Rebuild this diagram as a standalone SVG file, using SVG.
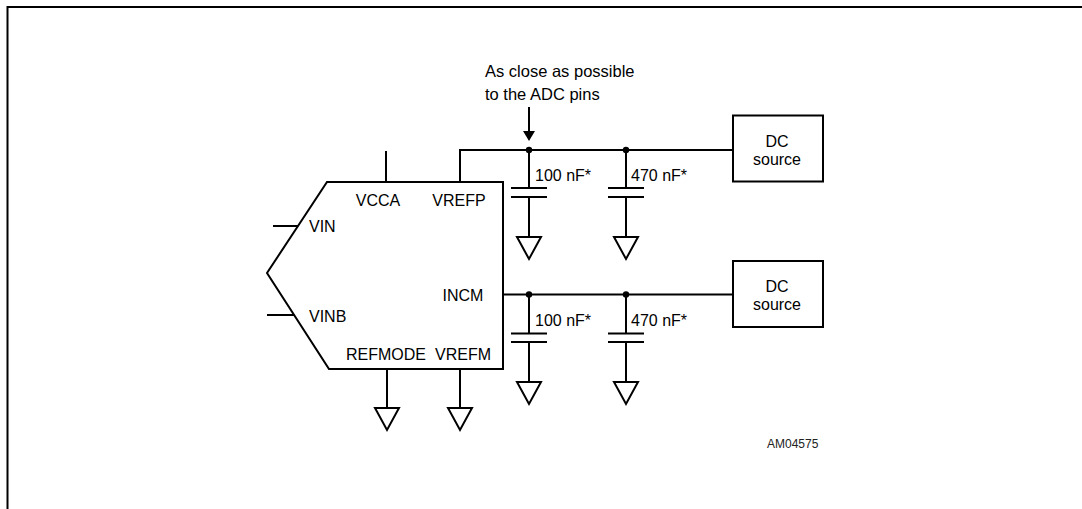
<svg xmlns="http://www.w3.org/2000/svg" width="1082" height="509" viewBox="0 0 1082 509">
<defs>
<style>
.ln{fill:none;stroke:#000;stroke-width:2}
.t{font-family:"Liberation Sans",Arial,sans-serif;font-size:16px;fill:#000}
.m{text-anchor:middle}
.dot{fill:#000}
.gnd{fill:#fff;stroke:#000;stroke-width:2}
</style>
</defs>
<rect width="1082" height="509" fill="#fff"/>
<path class="ln" d="M7.5,509 V7 H1082" stroke-width="2.5"/>

<g id="adc">
<polygon class="ln" points="327,182 503,182 503,369 329,369 267,273"/>
<text class="t m" x="378" y="206">VCCA</text>
<text class="t m" x="459" y="206">VREFP</text>
<text class="t" x="309" y="232">VIN</text>
<text class="t" x="309" y="322">VINB</text>
<text class="t m" x="463" y="301">INCM</text>
<text class="t m" x="386" y="360">REFMODE</text>
<text class="t m" x="463" y="360">VREFM</text>
</g>

<g id="dc1">
<rect class="ln" x="733" y="115.5" width="90" height="66"/>
<text class="t m" x="777" y="147">DC</text>
<text class="t m" x="777" y="165">source</text>
</g>
<g id="dc2">
<rect class="ln" x="733" y="261" width="90" height="66"/>
<text class="t m" x="777" y="292">DC</text>
<text class="t m" x="777" y="310">source</text>
</g>

<g id="c1">
<line class="ln" x1="511" y1="188" x2="547" y2="188"/>
<line class="ln" x1="511" y1="197" x2="547" y2="197"/>
<text class="t" x="535" y="181">100 nF*</text>
</g>
<g id="c2">
<line class="ln" x1="608" y1="188" x2="644" y2="188"/>
<line class="ln" x1="608" y1="197" x2="644" y2="197"/>
<text class="t" x="631" y="181">470 nF*</text>
</g>
<g id="c3">
<line class="ln" x1="511" y1="333.5" x2="547" y2="333.5"/>
<line class="ln" x1="511" y1="342" x2="547" y2="342"/>
<text class="t" x="535" y="326">100 nF*</text>
</g>
<g id="c4">
<line class="ln" x1="608" y1="333.5" x2="644" y2="333.5"/>
<line class="ln" x1="608" y1="342" x2="644" y2="342"/>
<text class="t" x="631" y="326">470 nF*</text>
</g>

<g id="grounds">
<polygon class="gnd" points="517,237 541,237 529,259"/>
<polygon class="gnd" points="614,237 638,237 626,259"/>
<polygon class="gnd" points="517,382 541,382 529,404"/>
<polygon class="gnd" points="614,382 638,382 626,404"/>
<polygon class="gnd" points="375,408 399,408 387,430"/>
<polygon class="gnd" points="448,408 472,408 460,430"/>
</g>

<g id="note">
<text class="t" x="485" y="77" style="font-size:16.5px">As close as possible</text>
<text class="t" x="485" y="100" style="font-size:16.5px">to the ADC pins</text>
</g>

<g id="connectors">
<line class="ln" x1="386" y1="151" x2="386" y2="182"/>
<polyline class="ln" points="460,182 460,150 733,150"/>
<line class="ln" x1="273" y1="226" x2="298" y2="226"/>
<line class="ln" x1="267" y1="315" x2="294" y2="315"/>
<line class="ln" x1="503" y1="294.5" x2="733" y2="294.5"/>
<line class="ln" x1="529" y1="150" x2="529" y2="188"/>
<line class="ln" x1="626" y1="150" x2="626" y2="188"/>
<line class="ln" x1="529" y1="197" x2="529" y2="237"/>
<line class="ln" x1="626" y1="197" x2="626" y2="237"/>
<line class="ln" x1="529" y1="294.5" x2="529" y2="333.5"/>
<line class="ln" x1="626" y1="294.5" x2="626" y2="333.5"/>
<line class="ln" x1="529" y1="342" x2="529" y2="382"/>
<line class="ln" x1="626" y1="342" x2="626" y2="382"/>
<line class="ln" x1="387" y1="369" x2="387" y2="408"/>
<line class="ln" x1="460" y1="369" x2="460" y2="408"/>
<circle class="dot" cx="529" cy="150" r="3.2"/>
<circle class="dot" cx="626" cy="150" r="3.2"/>
<circle class="dot" cx="529" cy="294.5" r="3.2"/>
<circle class="dot" cx="626" cy="294.5" r="3.2"/>
<line class="ln" x1="529" y1="107" x2="529" y2="132"/>
<polygon class="dot" points="523,131 535,131 529,141"/>
</g>

<text x="767" y="448" style="font-family:'Liberation Sans',Arial,sans-serif;font-size:12px;fill:#222">AM04575</text>
</svg>
